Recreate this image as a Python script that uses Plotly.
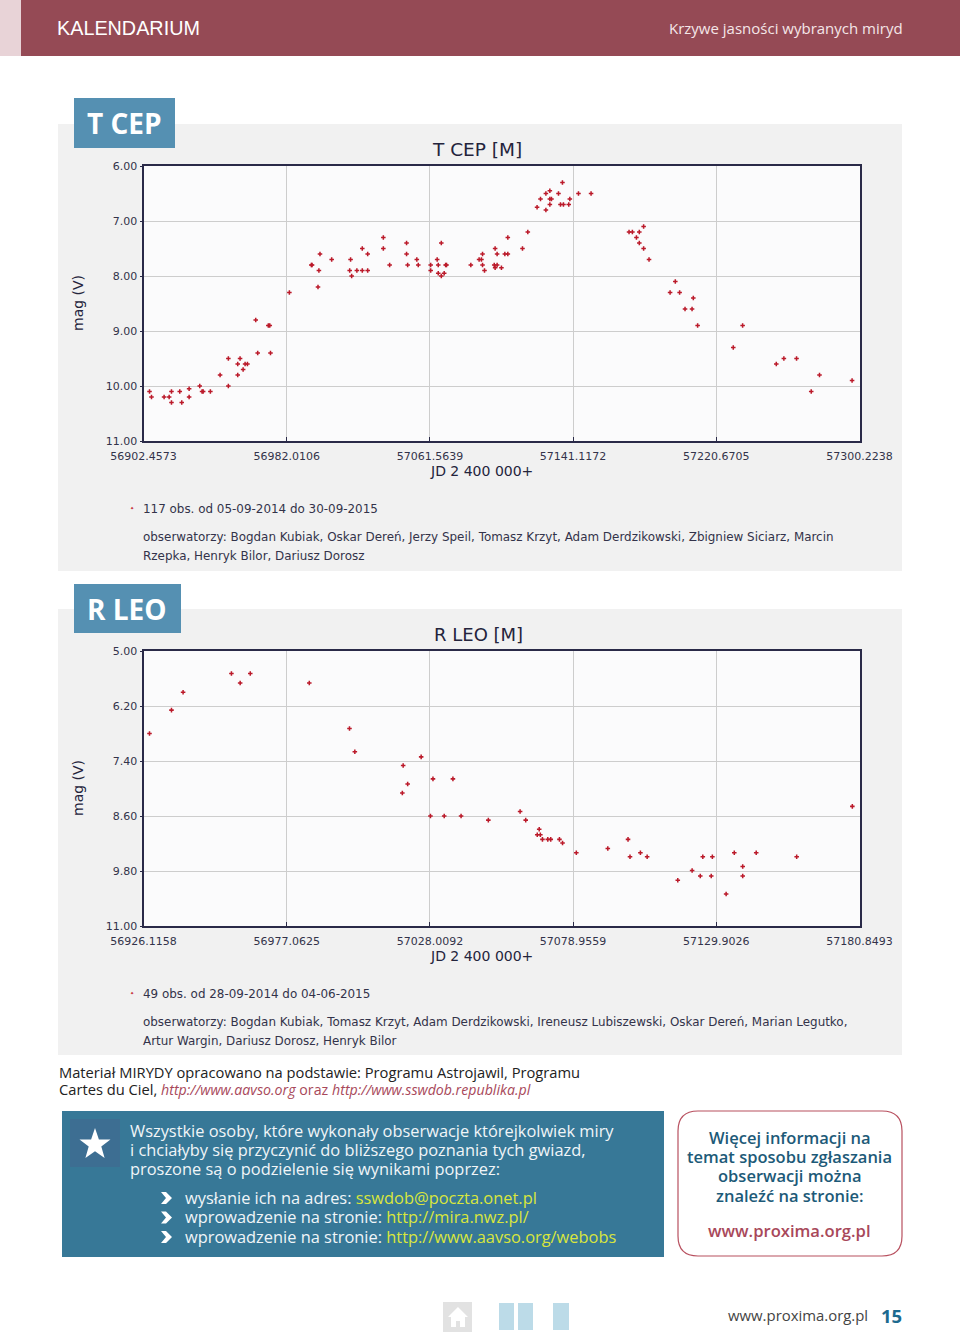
import plotly.graph_objects as go

W, H = 960, 1332

tcep_jd = [56905.8,56906.9,56913.9,56916.7,56918.0,56918.0,56922.6,56923.7,56927.8,56927.8,56933.7,56935.0,56935.6,56939.6,56945.0,56949.6,56949.6,56954.8,56954.8,56956.1,56957.8,56958.9,56960.2,56964.8,56965.9,56971.8,56972.6,56973.0,56983.5,56995.7,56996.1,56999.4,56999.9,57000.5,57007.0,57017.0,57017.5,57018.1,57021.0,57024.0,57024.0,57027.0,57027.0,57035.7,57035.7,57039.2,57048.6,57048.6,57049.2,57054.3,57055.1,57062.0,57062.0,57065.6,57066.2,57066.2,57067.9,57067.9,57069.5,57070.3,57070.8,57084.3,57088.9,57090.2,57090.8,57090.8,57091.9,57097.3,57097.8,57097.8,57098.9,57098.9,57101.3,57103.2,57104.85,57104.85,57113.0,57115.95,57121.1,57123.0,57126.0,57126.0,57128.2,57128.2,57128.2,57129.1,57133.0,57134.1,57135.2,57135.75,57138.7,57139.3,57144.1,57151.1,57172.2,57174.05,57176.3,57177.9,57177.9,57180.3,57180.3,57183.3,57195.0,57197.9,57200.3,57203.3,57207.2,57207.9,57210.3,57230.1,57235.3,57254.0,57258.2,57265.25,57273.4,57278.0,57296.1]
tcep_mag = [10.1,10.2,10.2,10.2,10.1,10.3,10.1,10.3,10.05,10.2,10.0,10.1,10.1,10.1,9.8,9.5,10.0,9.6,9.8,9.5,9.7,9.6,9.6,8.8,9.4,8.9,8.9,9.4,8.3,7.8,7.8,8.2,7.9,7.6,7.7,7.9,7.7,8.0,7.9,7.5,7.9,7.6,7.9,7.3,7.5,7.8,7.4,7.6,7.8,7.7,7.8,7.8,7.9,7.7,7.8,7.95,7.4,8.0,7.95,7.8,7.8,7.8,7.7,7.7,7.6,7.8,7.9,7.8,7.5,7.85,7.6,7.8,7.85,7.6,7.6,7.3,7.5,7.2,6.75,6.6,6.5,6.8,6.45,6.6,6.7,6.6,6.5,6.7,6.3,6.7,6.7,6.6,6.5,6.5,7.2,7.2,7.3,7.2,7.4,7.1,7.5,7.7,8.3,8.1,8.3,8.6,8.6,8.4,8.9,9.3,8.9,9.6,9.5,9.5,10.1,9.8,9.9]
tcep_xticks = [56902.4573,56982.0106,57061.5639,57141.1172,57220.6705,57300.2238]
tcep_xlabels = ["56902.4573","56982.0106","57061.5639","57141.1172","57220.6705","57300.2238"]
tcep_yticks = [6,7,8,9,10,11]
tcep_ylabels = ["6.00","7.00","8.00","9.00","10.00","11.00"]

rleo_jd = [56928.25,56936.07,56940.2,56957.4,56960.5,56964.1,56985.1,56999.4,57001.3,57018.2,57018.5,57020.1,57024.9,57028.2,57029.1,57033.1,57036.2,57039.1,57048.8,57060.1,57062.1,57066.2,57067.3,57066.9,57068.05,57069.95,57071.0,57074.1,57075.2,57080.1,57091.3,57098.5,57099.2,57102.9,57105.3,57116.2,57121.3,57124.2,57125.1,57128.1,57128.5,57133.4,57136.3,57139.3,57139.3,57144.1,57158.5,57178.3]
rleo_mag = [6.80,6.29,5.90,5.49,5.70,5.49,5.70,6.69,7.20,8.10,7.50,7.90,7.31,8.60,7.79,8.60,7.79,8.60,8.69,8.50,8.69,9.01,9.01,8.89,9.11,9.11,9.11,9.11,9.19,9.40,9.31,9.11,9.49,9.40,9.49,10.0,9.79,9.91,9.49,9.91,9.49,10.3,9.40,9.70,9.91,9.40,9.49,8.39]
rleo_xticks = [56926.1158,56977.0625,57028.0092,57078.9559,57129.9026,57180.8493]
rleo_xlabels = ["56926.1158","56977.0625","57028.0092","57078.9559","57129.9026","57180.8493"]
rleo_yticks = [5.0,6.2,7.4,8.6,9.8,11.0]
rleo_ylabels = ["5.00","6.20","7.40","8.60","9.80","11.00"]

INK = "#2a2a48"
TEXT = "#33334a"
PLOT_BG = "#fbfbfc"
CHART_FONT = "DejaVu Sans"
PAGE_FONT = "Open Sans"


def fx(x):
    return x / W


def fy(y):
    return 1 - y / H


shapes, annos = [], []


def rect(x0, y0, x1, y1, fill, line=None, lw=0, layer="below"):
    shapes.append(dict(type="rect", xref="paper", yref="paper", x0=fx(x0), x1=fx(x1), y0=fy(y1), y1=fy(y0),
                       fillcolor=fill, line=dict(color=line or fill, width=lw), layer=layer))


def poly(points, fill, layer="above"):
    p = "M " + " L ".join(f"{fx(a):.5f},{fy(b):.5f}" for a, b in points) + " Z"
    shapes.append(dict(type="path", xref="paper", yref="paper", path=p, fillcolor=fill, line=dict(width=0), layer=layer))


def text(x, y, s, size, color, font=PAGE_FONT, anchor="left", angle=0, weight="normal"):
    if anchor == "left":
        x -= 1
    elif anchor == "right":
        x += 1.5
    if font != CHART_FONT:
        y -= 1
    annos.append(dict(x=fx(x), y=fy(y), xref="paper", yref="paper", text=s, showarrow=False,
                      xanchor=anchor, yanchor="middle", align=anchor, textangle=angle,
                      borderpad=0, font=dict(size=size, color=color, family=font, weight=weight)))


# page furniture
rect(0, 0, 21, 56, "#e8d3d7")
rect(21, 0, 960, 56, "#954a55")
text(57, 29, "KALENDARIUM", 19.8, "#ffffff", "Liberation Sans")
text(902, 29, "Krzywe jasności wybranych miryd", 15, "#f4e6e8", PAGE_FONT, "right")

rect(58, 124, 902, 571, "#f1f1f1")
rect(58, 609, 902, 1055, "#f1f1f1")
rect(143, 166, 860, 441, PLOT_BG)
rect(143, 651, 860, 926, PLOT_BG)
rect(74, 98, 175, 148, "#5590b2")
text(87, 124, "<b>T CEP</b>", 28, "#ffffff")
rect(74, 584, 181, 633, "#5590b2")
text(87, 610, "<b>R LEO</b>", 28, "#ffffff")

# chart texts
text(477, 149, "T CEP [M]", 18.5, "#24243c", CHART_FONT, "center")
text(478, 634, "R LEO [M]", 18, "#24243c", CHART_FONT, "center")
text(481, 471, "JD 2 400 000+", 14, "#24243c", CHART_FONT, "center")
text(481, 956, "JD 2 400 000+", 14, "#24243c", CHART_FONT, "center")
text(78, 303, "mag (V)", 14, "#24243c", CHART_FONT, "center", -90)
text(78, 788, "mag (V)", 14, "#24243c", CHART_FONT, "center", -90)
text(143, 509, "117 obs. od 05-09-2014 do 30-09-2015", 11.93, TEXT, CHART_FONT)
text(143, 537, "obserwatorzy: Bogdan Kubiak, Oskar Dereń, Jerzy Speil, Tomasz Krzyt, Adam Derdzikowski, Zbigniew Siciarz, Marcin", 11.93, TEXT, CHART_FONT)
text(143, 556, "Rzepka, Henryk Bilor, Dariusz Dorosz", 11.93, TEXT, CHART_FONT)
text(143, 994, "49 obs. od 28-09-2014 do 04-06-2015", 11.93, TEXT, CHART_FONT)
text(143, 1022, "obserwatorzy: Bogdan Kubiak, Tomasz Krzyt, Adam Derdzikowski, Ireneusz Lubiszewski, Oskar Dereń, Marian Legutko,", 11.93, TEXT, CHART_FONT)
text(143, 1041, "Artur Wargin, Dariusz Dorosz, Henryk Bilor", 11.93, TEXT, CHART_FONT)
text(132, 508, "✦", 5, "#c4182a", CHART_FONT, "center")
text(132, 993, "✦", 5, "#c4182a", CHART_FONT, "center")

# lower page
LINK = "color:#a8485a"
SMALL = "font-size:14.2px"
text(59, 1073, "Materiał MIRYDY opracowano na podstawie: Programu Astrojawil, Programu", 14.7, "#222222")
text(59, 1090, f"Cartes du Ciel, <i><span style='{LINK};{SMALL}'>http://www.aavso.org</span></i> "
               f"<span style='{LINK};{SMALL}'>oraz</span> <i><span style='{LINK};{SMALL}'>http://www.sswdob.republika.pl</span></i>",
     14.7, "#222222")

rect(62, 1111, 664, 1257, "#377897")
rect(70, 1119, 120, 1167, "#3d6e92")
poly([(95.0, 1128), (98.9, 1139.6), (110.5, 1139.6), (101.3, 1146.6), (104.6, 1158), (95.0, 1151.2),
      (85.4, 1158), (88.7, 1146.6), (79.5, 1139.6), (91.1, 1139.6)], "#ffffff")
for yy, line in [(1131, "Wszystkie osoby, które wykonały obserwacje którejkolwiek miry"),
                 (1150, "i chciałyby się przyczynić do bliższego poznania tych gwiazd,"),
                 (1169, "proszone są o podzielenie się wynikami poprzez:")]:
    text(130, yy, line, 16.4, "#f0f5f8")
Y = "#d9e63c"
for yy, a, b in [(1198, "wysłanie ich na adres: ", "sswdob@poczta.onet.pl"),
                 (1217.5, "wprowadzenie na stronie: ", "http://mira.nwz.pl/"),
                 (1237, "wprowadzenie na stronie: ", "http://www.aavso.org/webobs")]:
    text(185, yy, f"{a}<span style='color:{Y}'>{b}</span>", 16.4, "#f0f5f8")
    poly([(161, yy - 6), (166, yy - 6), (172, yy), (166, yy + 6), (161, yy + 6), (166, yy)], "#ffffff")

# rounded box
x0, y0, x1, y1, r = 678, 1111, 902, 1256, 20
path = (f"M {fx(x0+r)},{fy(y0)} L {fx(x1-r)},{fy(y0)} Q {fx(x1)},{fy(y0)} {fx(x1)},{fy(y0+r)} "
        f"L {fx(x1)},{fy(y1-r)} Q {fx(x1)},{fy(y1)} {fx(x1-r)},{fy(y1)} L {fx(x0+r)},{fy(y1)} "
        f"Q {fx(x0)},{fy(y1)} {fx(x0)},{fy(y1-r)} L {fx(x0)},{fy(y0+r)} Q {fx(x0)},{fy(y0)} {fx(x0+r)},{fy(y0)} Z")
shapes.append(dict(type="path", xref="paper", yref="paper", path=path, fillcolor="#ffffff",
                   line=dict(color="#b8505f", width=1.2), layer="below"))
for yy, line in [(1138, "Więcej informacji na"), (1157, "temat sposobu zgłaszania"),
                 (1176, "obserwacji można"), (1196, "znaleźć na stronie:")]:
    text(789.5, yy, line, 16.5, "#1d5a78", PAGE_FONT, "center", weight=600)
text(789.5, 1231, "www.proxima.org.pl", 16.6, "#a8485a", PAGE_FONT, "center", weight=600)

# footer
rect(443, 1302, 472, 1332, "#e2e2e2")
poly([(458, 1307), (468, 1317), (465, 1317), (465, 1327), (460, 1327), (460, 1321), (456, 1321), (456, 1327),
      (451, 1327), (451, 1317), (448, 1317)], "#ffffff")
rect(499, 1303, 514, 1330, "#bcdbe8")
rect(518, 1303, 533, 1330, "#bcdbe8")
rect(553, 1303, 569, 1330, "#bcdbe8")
text(867, 1316, "www.proxima.org.pl", 14.9, "#444444", PAGE_FONT, "right")
text(901, 1316, "<b>15</b>", 18.5, "#1d6a8f", PAGE_FONT, "right")

fig = go.Figure()
fig.add_trace(go.Scatter(x=tcep_jd, y=tcep_mag, mode="markers", xaxis="x", yaxis="y", name="T CEP",
                         marker=dict(symbol="cross", size=3.8, color="#bb1a2a", line=dict(width=0))))
fig.add_trace(go.Scatter(x=rleo_jd, y=rleo_mag, mode="markers", xaxis="x2", yaxis="y2", name="R LEO",
                         marker=dict(symbol="cross", size=3.8, color="#bb1a2a", line=dict(width=0))))


def xaxis(ticks, labels, anchor):
    return dict(domain=[fx(143.5), fx(859.5)], range=[ticks[0], ticks[-1]], tickmode="array", tickvals=ticks,
                ticktext=labels, ticks="inside", ticklen=4, tickcolor=INK, anchor=anchor, showgrid=True,
                gridcolor="#cdcdcd", gridwidth=1.3, zeroline=False, showline=True, linecolor=INK, linewidth=2,
                mirror=True, automargin=False, ticklabelstandoff=4,
                tickfont=dict(family=CHART_FONT, size=11, color=TEXT))


def yaxis(ticks, labels, anchor, top, bottom):
    return dict(domain=[fy(bottom), fy(top)], range=[ticks[-1], ticks[0]], tickmode="array", tickvals=ticks,
                ticktext=labels, ticks="outside", ticklen=2, tickcolor=INK, anchor=anchor, showgrid=True,
                gridcolor="#cdcdcd", gridwidth=1.3, zeroline=False, showline=True, linecolor=INK, linewidth=2,
                mirror=True, automargin=False, tickfont=dict(family=CHART_FONT, size=11, color=TEXT))


fig.update_layout(
    width=W, height=H, autosize=False, margin=dict(l=0, r=0, t=0, b=0), showlegend=False,
    paper_bgcolor="#ffffff", plot_bgcolor=PLOT_BG, shapes=shapes, annotations=annos,
    xaxis=xaxis(tcep_xticks, tcep_xlabels, "y"),
    yaxis=yaxis(tcep_yticks, tcep_ylabels, "x", 166, 441),
    xaxis2=xaxis(rleo_xticks, rleo_xlabels, "y2"),
    yaxis2=yaxis(rleo_yticks, rleo_ylabels, "x2", 651, 926),
)
fig.write_html("out.html", config=dict(displayModeBar=False),
               post_script="document.body.style.margin='0';document.documentElement.style.overflow='hidden';")
